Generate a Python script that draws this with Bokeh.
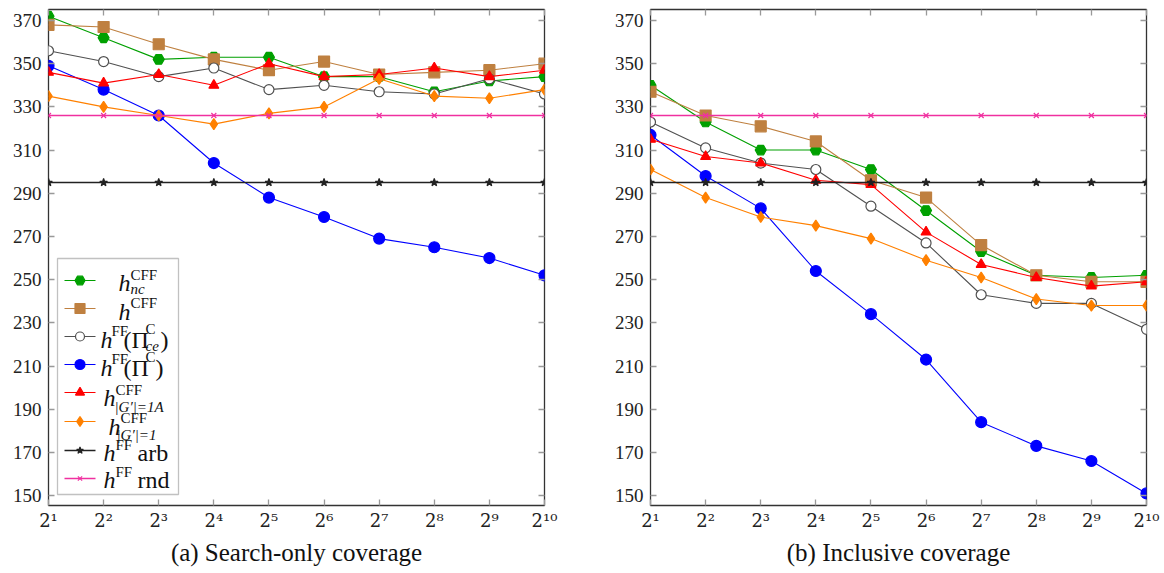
from bokeh.plotting import figure
from bokeh.models import (Range1d, FixedTicker, LinearAxis, CustomJSTickFormatter,
                          BoxAnnotation, Label)
from bokeh.layouts import row
from bokeh.embed import file_html
from bokeh.resources import INLINE

# ---------------- data ----------------
exponents = [1, 2, 3, 4, 5, 6, 7, 8, 9, 10]
x_tick_labels = ["2¹", "2²", "2³", "2⁴", "2⁵", "2⁶", "2⁷", "2⁸", "2⁹", "2¹⁰"]
y_ticks = [150, 170, 190, 210, 230, 250, 270, 290, 310, 330, 350, 370]

# (a) Search-only coverage
a_nc_cff = [372, 362, 352, 353, 353, 344, 344, 337, 342, 344]
a_cff = [368, 367, 359, 352, 347, 351, 345, 346, 347, 350]
a_ff_pice = [356, 351, 344, 348, 338, 340, 337, 336, 343, 336]
a_ff_pic = [349, 338, 326, 304, 288, 279, 269, 265, 260, 252]
a_cff_g1a = [346, 341, 345, 340, 350, 344, 345, 348, 344, 347]
a_cff_g1 = [335, 330, 326, 322, 327, 330, 343, 335, 334, 338]
a_ff_arb = [295, 295, 295, 295, 295, 295, 295, 295, 295, 295]
a_ff_rnd = [326, 326, 326, 326, 326, 326, 326, 326, 326, 326]

# (b) Inclusive coverage
b_nc_cff = [340, 323, 310, 310, 301, 282, 263, 252, 251, 252]
b_cff = [337, 326, 321, 314, 296, 288, 266, 252, 249, 249]
b_ff_pice = [323, 311, 304, 301, 284, 267, 243, 239, 239, 227]
b_ff_pic = [317, 298, 283, 254, 234, 213, 184, 173, 166, 151]
b_cff_g1a = [315, 307, 304, 296, 294, 272, 257, 251, 247, 249]
b_cff_g1 = [301, 288, 279, 275, 269, 259, 251, 241, 238, 238]
b_ff_arb = [295, 295, 295, 295, 295, 295, 295, 295, 295, 295]
b_ff_rnd = [326, 326, 326, 326, 326, 326, 326, 326, 326, 326]

# ---------------- styles ----------------
FONT = "Liberation Serif"
Y_LO, Y_HI = 145.4, 375.1
FRAME_W, FRAME_H = 496, 496

series_styles = [
    dict(color="#00a000", marker="hex", size=11, fill="#00a000", lw=1.1),
    dict(color="#bf8040", marker="square", size=11, fill="#bf8040", lw=1.1),
    dict(color="#505050", marker="circle", size=10, fill="white", lw=1.1),
    dict(color="#0000ff", marker="circle", size=11, fill="#0000ff", lw=1.1),
    dict(color="#ff0000", marker="triangle", size=10, fill="#ff0000", lw=1.1),
    dict(color="#ff8000", marker="diamond", size=11, fill="#ff8000", lw=1.1),
    dict(color="#222222", marker="star", size=8, fill="#222222", lw=1.6),
    dict(color="#f030a0", marker="x", size=7, fill="#f030a0", lw=1.4),
]


def make_fig(series, caption, left_border, right_border):
    p = figure(frame_width=FRAME_W, frame_height=FRAME_H,
               x_range=Range1d(1, 10), y_range=Range1d(Y_LO, Y_HI),
               output_backend="svg", toolbar_location=None,
               min_border_left=left_border, min_border_right=right_border,
               min_border_top=9, min_border_bottom=68)
    p.xgrid.visible = False
    p.ygrid.visible = False
    p.outline_line_color = "#333333"
    p.outline_line_width = 1.3

    for vals, st in zip(series, series_styles):
        p.line(exponents, vals, line_color=st["color"], line_width=st["lw"])
        p.scatter(exponents, vals, marker=st["marker"], size=st["size"],
                  line_color=st["color"], fill_color=st["fill"], line_width=1.2)

    for ax in (p.xaxis[0], p.yaxis[0]):
        ax.axis_line_color = None
        ax.major_tick_in = 6
        ax.major_tick_out = 0
        ax.minor_tick_line_color = None
        ax.major_tick_line_color = "#999999"
        ax.major_tick_line_width = 1.3
        ax.major_label_text_font = FONT
        ax.major_label_text_font_size = "19px"
        ax.major_label_text_color = "#222222"

    p.xaxis.major_label_text_font = "DejaVu Serif"
    p.xaxis.major_label_text_font_size = "18px"
    p.yaxis.ticker = FixedTicker(ticks=y_ticks)
    p.yaxis.major_label_standoff = 7
    p.xaxis.ticker = FixedTicker(ticks=exponents)
    p.xaxis.major_label_overrides = {e: t for e, t in zip(exponents, x_tick_labels)}
    p.xaxis.major_label_standoff = 4
    p.xaxis.axis_label = caption
    p.xaxis.axis_label_text_font = FONT
    p.xaxis.axis_label_text_font_size = "25px"
    p.xaxis.axis_label_text_font_style = "normal"
    p.xaxis.axis_label_text_color = "#111111"
    p.xaxis.axis_label_standoff = 5

    # mirrored ticks on right and top
    blank = CustomJSTickFormatter(code="return ''")
    r_ax = LinearAxis(ticker=FixedTicker(ticks=y_ticks), formatter=blank)
    t_ax = LinearAxis(ticker=FixedTicker(ticks=exponents), formatter=blank)
    for ax in (r_ax, t_ax):
        ax.axis_line_color = None
        ax.major_tick_in = 6
        ax.major_tick_out = 0
        ax.minor_tick_line_color = None
        ax.major_tick_line_color = "#999999"
        ax.major_tick_line_width = 1.3
        ax.major_label_standoff = 0
        ax.major_label_text_font_size = "1px"
    p.add_layout(r_ax, "right")
    p.add_layout(t_ax, "above")
    return p


p1 = make_fig([a_nc_cff, a_cff, a_ff_pice, a_ff_pic, a_cff_g1a, a_cff_g1, a_ff_arb, a_ff_rnd],
              "(a) Search-only coverage", 48, 36)
p2 = make_fig([b_nc_cff, b_cff, b_ff_pice, b_ff_pic, b_cff_g1a, b_cff_g1, b_ff_arb, b_ff_rnd],
              "(b) Inclusive coverage", 70, 17)

# ---------------- legend (left panel), placed in pixel terms ----------------
FX0, FY0 = 48, 9


def px_x(px):
    return 1 + (px - FX0) * 9.0 / FRAME_W


def px_y(py):
    return Y_HI - (py - FY0) * (Y_HI - Y_LO) / FRAME_H


p1.add_layout(BoxAnnotation(left=px_x(57), right=px_x(178), top=px_y(258), bottom=px_y(494),
                            fill_color="white", fill_alpha=1.0, line_color="#333333",
                            line_width=1.3, level="underlay"))

entry_y = [280, 308, 336, 364, 392, 421, 450, 478]
for ey, st in zip(entry_y, series_styles):
    p1.line([px_x(64), px_x(95)], [px_y(ey), px_y(ey)], line_color=st["color"], line_width=st["lw"])
    p1.scatter([px_x(79.5)], [px_y(ey)], marker=st["marker"], size=st["size"] - 1,
               line_color=st["color"], fill_color=st["fill"], line_width=1.2)

BIG, SMALL = "24px", "15px"
DY = -6
pieces = [
    # (px, baseline py, text, size, style)
    (118, 288, "h", BIG, "italic"), (130, 280, "CFF", SMALL, "normal"), (130, 294, "nc", SMALL, "italic"),
    (118, 317, "h", BIG, "italic"), (130, 308, "CFF", SMALL, "normal"),
    (100, 345, "h", BIG, "italic"), (111, 336, "FF", SMALL, "normal"), (123, 345, "(Π", BIG, "normal"),
    (145, 334, "C", SMALL, "normal"), (145, 351, "ce", SMALL, "italic"), (160, 345, ")", BIG, "normal"),
    (100, 373, "h", BIG, "italic"), (111, 364, "FF", SMALL, "normal"), (123, 373, "(Π", BIG, "normal"),
    (145, 362, "C", SMALL, "normal"), (155, 373, ")", BIG, "normal"),
    (103, 403, "h", BIG, "italic"), (115, 395, "CFF", SMALL, "normal"), (114, 412, "|G′|=1A", SMALL, "italic"),
    (108, 432, "h", BIG, "italic"), (120, 423, "CFF", SMALL, "normal"), (116, 440, "|G′|=1", SMALL, "italic"),
    (103, 458, "h", BIG, "italic"), (115, 450, "FF", SMALL, "normal"), (137, 458, "arb", BIG, "normal"),
    (103, 485, "h", BIG, "italic"), (115, 477, "FF", SMALL, "normal"), (137, 485, "rnd", BIG, "normal"),
]
for px, py, txt, sz, style in pieces:
    p1.add_layout(Label(x=px_x(px), y=px_y(py + DY), text=txt, text_font=FONT, text_font_size=sz,
                        text_font_style=style, text_baseline="alphabetic", text_align="left",
                        text_color="#111111"))

layout = row(p1, p2)
open("out.html", "w").write(file_html(layout, INLINE))
